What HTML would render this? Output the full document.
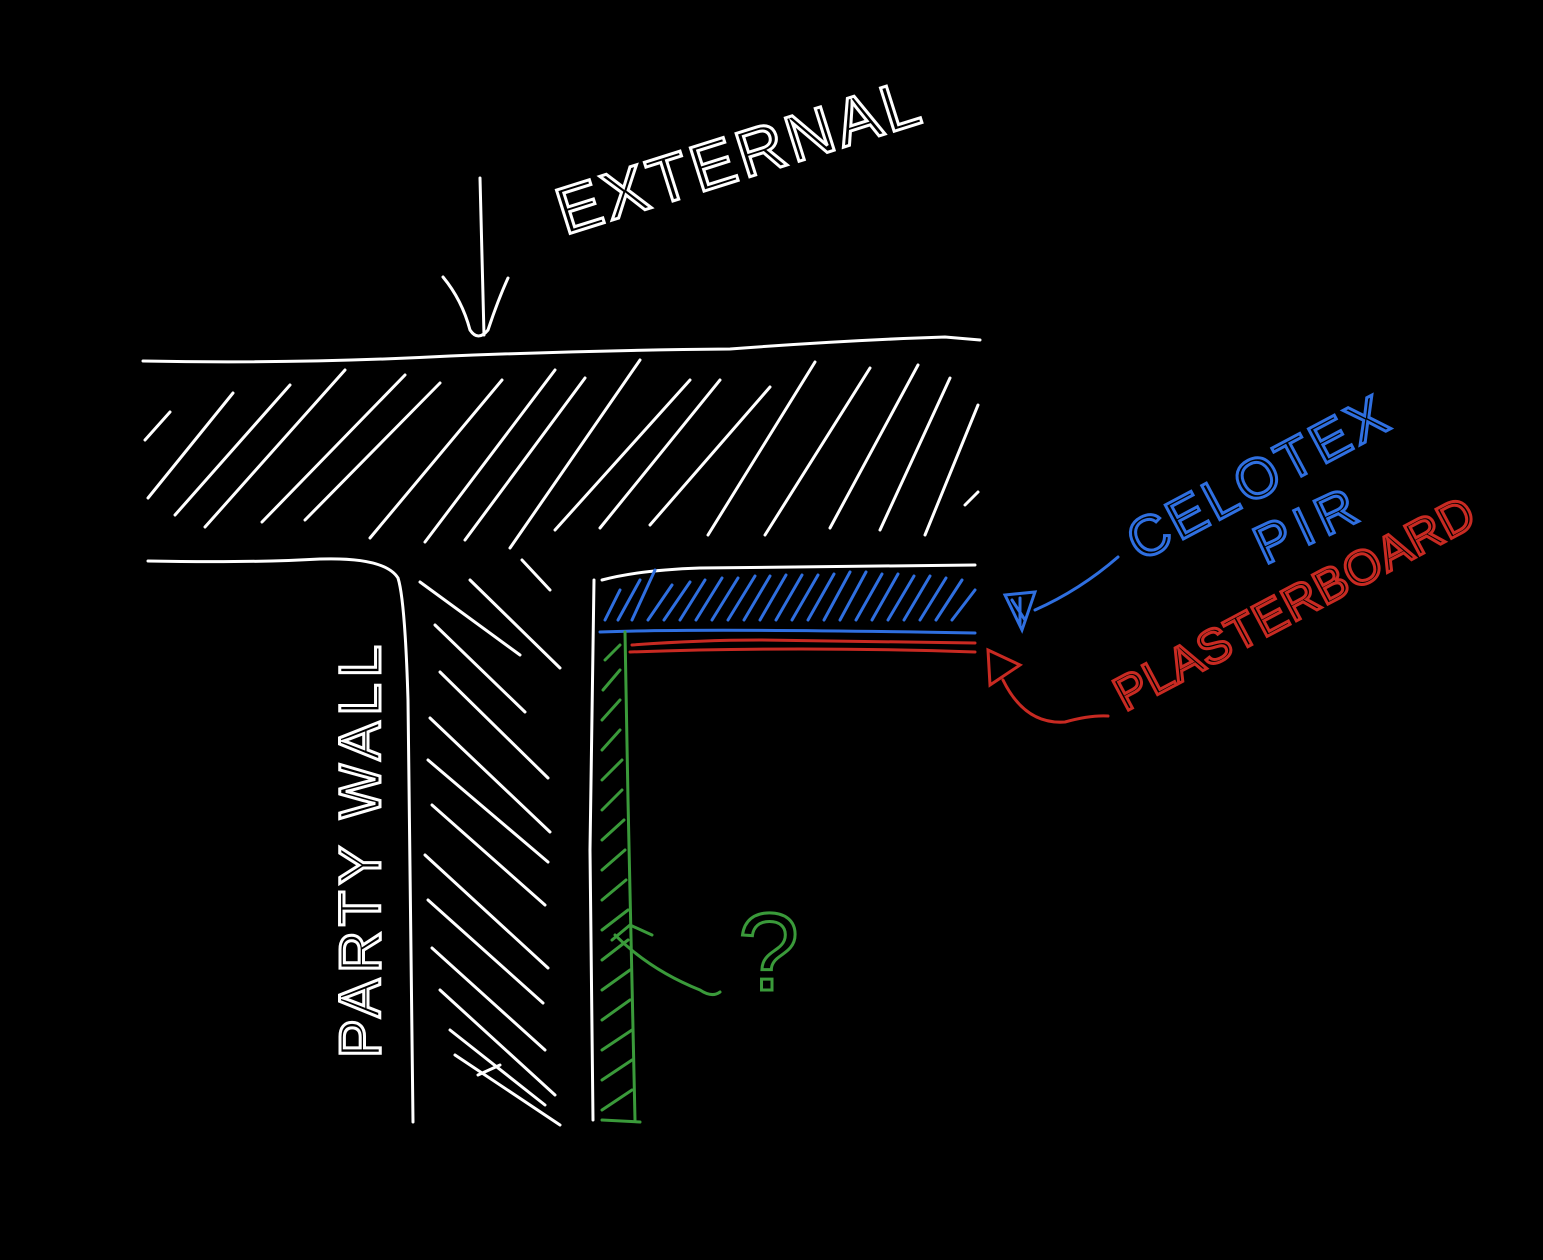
<!DOCTYPE html>
<html><head><meta charset="utf-8"><style>
html,body{margin:0;padding:0;background:#000;width:1543px;height:1260px;overflow:hidden}
svg{display:block}
</style></head><body>
<svg width="1543" height="1260" viewBox="0 0 1543 1260" xmlns="http://www.w3.org/2000/svg">
<g fill="none" stroke="#fff" stroke-width="3" stroke-linecap="round" stroke-linejoin="round">
<path d="M480 178 Q482 260 484 335"/>
<path d="M443 277 Q462 300 470 330 Q478 342 488 330 Q498 300 508 278"/>
<path d="M143 361 Q300 364 450 356 Q600 350 730 349 Q850 340 945 337 L980 340"/>
<path d="M148 561 Q250 563 320 559 Q385 557 398 578 Q405 600 408 700 L413 1122"/>
<path d="M594 580 L590 850 L593 1120"/>
<path d="M602 580 Q640 570 700 568 L975 565"/>
<path d="M148 498 L233 393"/>
<path d="M145 440 L170 412"/>
<path d="M175 515 L290 385"/>
<path d="M205 527 L345 370"/>
<path d="M262 522 L405 375"/>
<path d="M305 520 L440 383"/>
<path d="M370 538 L502 380"/>
<path d="M425 542 L555 370"/>
<path d="M465 540 L585 378"/>
<path d="M510 548 L640 360"/>
<path d="M555 530 L690 380"/>
<path d="M600 528 L720 380"/>
<path d="M650 525 L770 387"/>
<path d="M708 535 L815 362"/>
<path d="M765 535 L870 368"/>
<path d="M830 528 L918 365"/>
<path d="M880 530 L950 378"/>
<path d="M925 535 L978 405"/>
<path d="M965 505 L978 492"/>
<path d="M420 582 L520 655"/>
<path d="M470 580 L560 668"/>
<path d="M522 560 L550 590"/>
<path d="M435 625 L525 712"/>
<path d="M440 672 L548 778"/>
<path d="M430 718 L550 832"/>
<path d="M428 760 L548 862"/>
<path d="M432 805 L545 905"/>
<path d="M425 855 L548 968"/>
<path d="M428 900 L543 1003"/>
<path d="M432 948 L545 1050"/>
<path d="M440 990 L555 1095"/>
<path d="M450 1030 L545 1105"/>
<path d="M455 1055 L560 1125"/>
<path d="M478 1075 L500 1065"/>
</g>
<text x="565" y="235" transform="rotate(-17.5 565 235)" font-family="Liberation Sans, sans-serif" font-size="66" fill="none" stroke="#fff" stroke-width="3" letter-spacing="4">EXTERNAL</text>
<text x="380" y="1058" transform="rotate(-90 380 1058)" font-family="Liberation Sans, sans-serif" font-size="58" fill="none" stroke="#fff" stroke-width="3" letter-spacing="6">PARTY WALL</text>
<g fill="none" stroke="#2f6fe0" stroke-width="3" stroke-linecap="round">
<path d="M600 632 Q700 628 975 633"/>
<path d="M605 620 L620 590 M618 620 L640 580 M632 620 L655 570 M648 620 L672 585 M664 620 L690 582 M680 620 L705 580 M696 620 L722 578 M712 620 L738 578 M728 620 L755 576 M744 620 L770 576 M760 620 L786 575 M776 620 L802 575 M792 620 L818 575 M808 620 L834 574 M824 620 L850 572 M840 620 L866 572 M856 620 L882 574 M872 620 L898 574 M888 620 L914 576 M904 620 L930 576 M920 620 L946 578 M936 620 L962 580 M952 620 L975 590"/>
<path d="M1118 557 Q1080 590 1035 610"/>
<path d="M1005 595 L1035 592 L1022 630 Z M1012 600 L1025 620 M1020 598 L1020 625"/>
</g>
<text x="1140" y="562" transform="rotate(-28 1140 562)" font-family="Liberation Sans, sans-serif" font-size="56" fill="none" stroke="#2f6fe0" stroke-width="3" letter-spacing="4">CELOTEX</text>
<text x="1265" y="565" transform="rotate(-25 1265 565)" font-family="Liberation Sans, sans-serif" font-size="54" fill="none" stroke="#2f6fe0" stroke-width="3" letter-spacing="8">PIR</text>
<g fill="none" stroke="#c82a22" stroke-width="3" stroke-linecap="round">
<path d="M630 652 Q800 646 975 652"/>
<path d="M632 645 Q700 640 760 640 L975 643"/>
<path d="M988 650 L1020 665 L990 685 Z"/>
<path d="M1003 680 Q1025 725 1065 722 Q1090 715 1108 716"/>
</g>
<text x="1125" y="712" transform="rotate(-28 1125 712)" font-family="Liberation Sans, sans-serif" font-size="48" fill="none" stroke="#c82a22" stroke-width="3" letter-spacing="1">PLASTERBOARD</text>
<g fill="none" stroke="#3a9a3a" stroke-width="3" stroke-linecap="round">
<path d="M625 632 L628 800 L635 1120"/>
<path d="M602 1120 L640 1122"/>
<path d="M605 660 L620 645 M603 690 L620 670 M602 720 L620 700 M602 750 L620 730 M602 780 L622 760 M602 810 L622 790 M602 840 L624 820 M602 870 L625 850 M602 900 L626 880 M602 930 L628 910 M602 960 L628 940 M602 990 L630 970 M602 1020 L630 1000 M602 1050 L632 1030 M602 1080 L632 1060 M602 1110 L632 1090"/>
<path d="M615 935 Q650 970 700 990 Q712 998 720 992"/>
<path d="M612 940 L630 925 L652 935"/>
</g>
<text x="738" y="990" font-family="Liberation Sans, sans-serif" font-size="110" fill="none" stroke="#3a9a3a" stroke-width="3">?</text>
</svg>
</body></html>
